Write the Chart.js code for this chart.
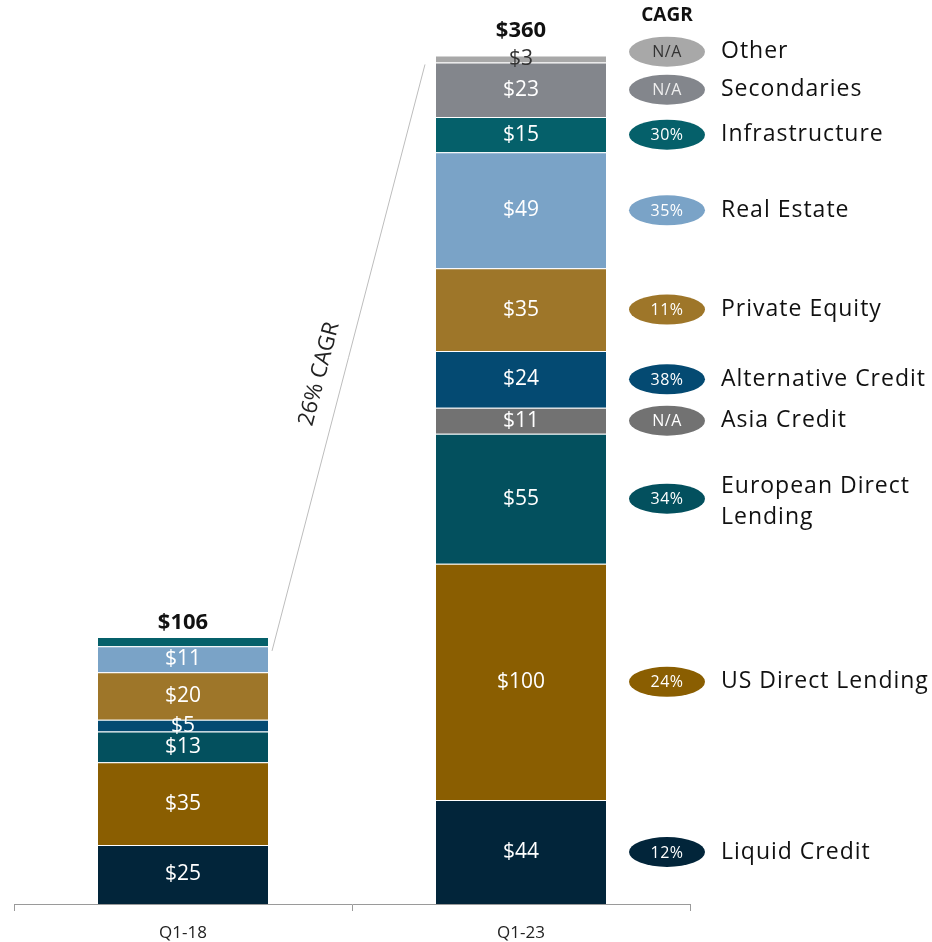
<!DOCTYPE html>
<html>
<head>
<meta charset="utf-8">
<script src="https://cdn.jsdelivr.net/npm/chart.js@4.4.1/dist/chart.umd.min.js"></script>
<style>
  html, body { margin: 0; padding: 0; background: #fff; }
  #wrap { width: 932px; height: 942px; }
</style>
</head>
<body>
<div id="wrap"><canvas id="c" width="932" height="942"></canvas></div>
<script>
// ---------- data ----------
const categories = ['Q1-18', 'Q1-23'];
const totals = ['$106', '$360'];
const seriesNames = ['Liquid Credit', 'US Direct Lending', 'European Direct Lending', 'Asia Credit',
  'Alternative Credit', 'Private Equity', 'Real Estate', 'Infrastructure', 'Secondaries', 'Other'];
const q118Values = [25, 35, 13, 0, 5, 20, 11, 4, 0, 0];
const q123Values = [44, 100, 55, 11, 24, 35, 49, 15, 23, 3];
const cagrLabels = ['12%', '24%', '34%', 'N/A', '38%', '11%', '35%', '30%', 'N/A', 'N/A'];
const unlabeledSegments = [['Q1-18', 'Infrastructure']];
const wrappedLegendNames = ['European Direct Lending'];
const growthLabel = '26% CAGR';

// ---------- styles ----------
const colors = ['#02253a', '#8a5e01', '#03505e', '#727272', '#044a72', '#9e7629', '#7aa3c7', '#05606a', '#83868c', '#a8a8a8'];
const pillTextColors = ['#fff', '#fff', '#fff', '#fff', '#fff', '#fff', '#fff', '#fff', '#eee', '#333'];
const segTextColors = ['#fff', '#fff', '#fff', '#fff', '#fff', '#fff', '#fff', '#fff', '#fff', '#333'];
const FONT = '"Open Sans", "Noto Sans", sans-serif';

const datasets = seriesNames.map((name, i) => ({
  label: name,
  data: [q118Values[i], q123Values[i]],
  backgroundColor: colors[i],
  borderColor: 'rgba(255,255,255,0.22)',
  borderWidth: { top: 1, bottom: 0, left: 0, right: 0 },
  borderSkipped: false,
  barPercentage: 1,
  categoryPercentage: 0.503
}));

const overlay = {
  id: 'overlay',
  afterDatasetsDraw(chart) {
    const ctx = chart.ctx;
    const x = chart.scales.x, y = chart.scales.y;
    const n = seriesNames.length;

    // segment labels
    ctx.save();
    ctx.textAlign = 'center';
    ctx.textBaseline = 'middle';
    ctx.font = '21px ' + FONT;
    for (let i = 0; i < n; i++) {
      const meta = chart.getDatasetMeta(i);
      meta.data.forEach((bar, j) => {
        const v = chart.data.datasets[i].data[j];
        if (!v) return;
        if (unlabeledSegments.some(s => s[0] === categories[j] && s[1] === seriesNames[i])) return;
        ctx.fillStyle = segTextColors[i];
        ctx.fillText('$' + v, bar.x, (bar.y + bar.base) / 2);
      });
    }
    ctx.restore();

    // totals
    const stackTop = j => {
      let s = 0;
      for (let i = 0; i < n; i++) s += chart.data.datasets[i].data[j] || 0;
      return y.getPixelForValue(s);
    };
    const totalOffsets = [14, 25];
    ctx.save();
    ctx.textAlign = 'center';
    ctx.textBaseline = 'middle';
    ctx.font = 'bold 22px ' + FONT;
    ctx.fillStyle = '#111';
    categories.forEach((c, j) => {
      ctx.fillText(totals[j], x.getPixelForValue(j), stackTop(j) - totalOffsets[j]);
    });
    ctx.restore();

    // growth line
    const bar0 = chart.getDatasetMeta(0).data[0];
    const bar1 = chart.getDatasetMeta(0).data[1];
    const x0 = bar0.x + bar0.width / 2 + 4, y0 = stackTop(0) + 14;
    const x1 = bar1.x - bar1.width / 2 - 11, y1 = stackTop(1) + 9;
    ctx.save();
    ctx.strokeStyle = '#bdbdbd';
    ctx.lineWidth = 1;
    ctx.beginPath();
    ctx.moveTo(x0, y0);
    ctx.lineTo(x1, y1);
    ctx.stroke();
    const ang = Math.atan2(y1 - y0, x1 - x0);
    const t = 0.462;
    const px = x0 + (x1 - x0) * t, py = y0 + (y1 - y0) * t;
    const off = 24;
    ctx.translate(px + off * Math.sin(ang), py - off * Math.cos(ang));
    ctx.rotate(ang);
    ctx.font = '22px ' + FONT;
    ctx.fillStyle = '#222';
    ctx.textAlign = 'center';
    ctx.textBaseline = 'middle';
    ctx.fillText(growthLabel, 0, 0);
    ctx.restore();

    // legend with CAGR pills, aligned to Q1-23 segments
    const centers = [];
    for (let i = 0; i < n; i++) {
      const b = chart.getDatasetMeta(i).data[1];
      centers.push((b.y + b.base) / 2);
    }
    const gap = 38;
    for (let i = 1; i < n; i++) {
      if (centers[i - 1] - centers[i] < gap) centers[i] = centers[i - 1] - gap;
    }
    const pillCx = x.right - 23, pillRx = 38, pillRy = 15;
    const textX = pillCx + 54;
    ctx.save();
    ctx.font = 'bold 19px ' + FONT;
    ctx.fillStyle = '#111';
    ctx.textAlign = 'center';
    ctx.textBaseline = 'middle';
    ctx.fillText('CAGR', pillCx, centers[n - 1] - 36);
    for (let i = 0; i < n; i++) {
      const cy = centers[i];
      ctx.beginPath();
      ctx.ellipse(pillCx, cy, pillRx, pillRy, 0, 0, Math.PI * 2);
      ctx.fillStyle = colors[i];
      ctx.fill();
      ctx.font = '16px ' + FONT;
      ctx.letterSpacing = '0.5px';
      ctx.fillStyle = pillTextColors[i];
      ctx.textAlign = 'center';
      ctx.fillText(cagrLabels[i], pillCx, cy + 1);
      ctx.font = '23px ' + FONT;
      ctx.letterSpacing = '1px';
      ctx.fillStyle = '#111';
      ctx.textAlign = 'left';
      const words = seriesNames[i];
      if (wrappedLegendNames.includes(words)) {
        const k = words.lastIndexOf(' ');
        ctx.fillText(words.slice(0, k), textX, cy - 12);
        ctx.fillText(words.slice(k + 1), textX, cy + 19);
      } else {
        ctx.fillText(words, textX, cy);
      }
    }
    ctx.restore();
  }
};

new Chart(document.getElementById('c'), {
  type: 'bar',
  data: { labels: categories, datasets },
  options: {
    responsive: false,
    animation: false,
    layout: { padding: { left: 14, right: 242, top: 20, bottom: 0 } },
    plugins: { legend: { display: false }, tooltip: { enabled: false } },
    scales: {
      x: {
        stacked: true,
        afterFit(scale) { scale.height = 38; },
        grid: { display: true, offset: true, drawOnChartArea: false, drawTicks: true, tickLength: 7, color: '#9a9a9a' },
        border: { display: true, color: '#9a9a9a', width: 1 },
        ticks: { color: '#222', font: { size: 17, family: FONT }, padding: 12 }
      },
      y: { stacked: true, display: false, min: 0, max: 374 }
    }
  },
  plugins: [overlay]
});
</script>
</body>
</html>
